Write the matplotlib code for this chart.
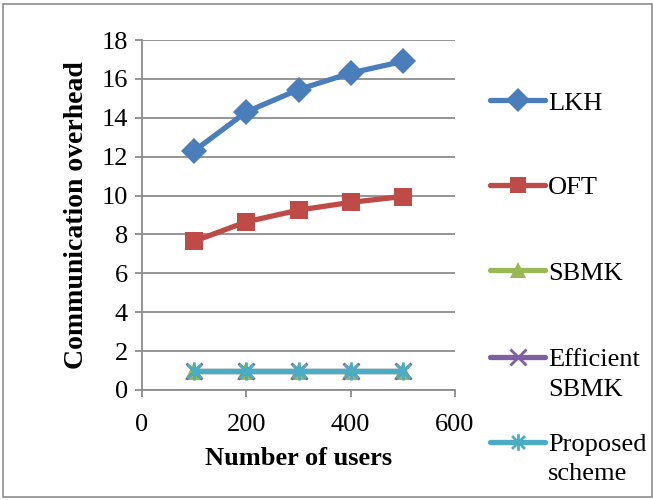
import matplotlib.pyplot as plt
from matplotlib.lines import Line2D
from matplotlib.patches import Rectangle
from matplotlib.path import Path

plt.rcParams['font.family'] = ['Liberation Serif', 'DejaVu Serif']

users = [100, 200, 300, 400, 500]
lkh = [12.3, 14.3, 15.45, 16.3, 16.9]
oft = [7.65, 8.65, 9.25, 9.65, 9.95]
sbmk = [1, 1, 1, 1, 1]
eff_sbmk = [1, 1, 1, 1, 1]
proposed = [1, 1, 1, 1, 1]

# excel style star: an x with a vertical bar through it
star = Path([(-1, -1), (1, 1), (-1, 1), (1, -1), (0, -1.3), (0, 1.3)],
            [Path.MOVETO, Path.LINETO] * 3)

series = [
    ("LKH", lkh, "#4A7EBB", "D", 13),
    ("OFT", oft, "#BE4B48", "s", 13),
    ("SBMK", sbmk, "#98B954", "^", 13),
    ("Efficient\nSBMK", eff_sbmk, "#7D60A0", "x", 12),
    ("Proposed\nscheme", proposed, "#4BACC6", star, 13),
]
thin = ("x",)

W, H = 653, 500
fig = plt.figure(figsize=(W / 100, H / 100), dpi=100)
ax = fig.add_axes([142 / W, 1 - 390 / H, (455 - 142) / W, (390 - 40) / H])

for name, vals, col, mk, ms in series:
    line_mk = mk in thin or mk is star
    ax.plot(users, vals, color=col, lw=3.8, marker=mk, markersize=ms,
            markeredgewidth=2 if line_mk else 0,
            markeredgecolor=col, solid_capstyle='round', clip_on=False)

ax.set_xlim(0, 600)
ax.set_ylim(0, 18)
ax.set_xticks([0, 200, 400, 600])
ax.set_yticks(range(0, 19, 2))
ax.grid(axis='y', color='#8C8C8C', lw=1.3)
ax.set_axisbelow(True)
for s in ('top', 'right'):
    ax.spines[s].set_visible(False)
for s in ('left', 'bottom'):
    ax.spines[s].set_color('#8C8C8C')
    ax.spines[s].set_linewidth(1.3)
ax.tick_params(colors='#8C8C8C', labelcolor='black', labelsize=19,
               length=5, width=1.3)
ax.tick_params(axis='y', pad=5)
ax.tick_params(axis='x', pad=12)
ax.set_xlabel("Number of users", fontsize=19, fontweight='bold', labelpad=8)
ax.set_ylabel("Communication overhead", fontsize=20, fontweight='bold', labelpad=9)

# legend drawn by hand, excel style
rows = [100, 185, 270, 357, 442]
for (name, vals, col, mk, ms), yp in zip(series, rows):
    y = 1 - yp / H
    line_mk = mk in thin or mk is star
    fig.add_artist(Line2D([490 / W, 545 / W], [y, y], color=col, lw=3.8,
                          solid_capstyle='round'))
    fig.add_artist(Line2D([518 / W], [y], marker=mk, color=col,
                          markersize=ms - 1, markeredgecolor=col,
                          markeredgewidth=2 if line_mk else 0))
    for i, line in enumerate(name.split("\n")):
        fig.text(548 / W, 1 - (yp + 1 + i * 29) / H, line, fontsize=19,
                 va='center_baseline', ha='left')

fig.add_artist(Rectangle((3 / W, 3 / H), (W - 4) / W, (H - 7) / H,
                         transform=fig.transFigure, fill=False,
                         edgecolor='#8C8C8C', lw=1.2))

fig.savefig("out.png", dpi=100)
